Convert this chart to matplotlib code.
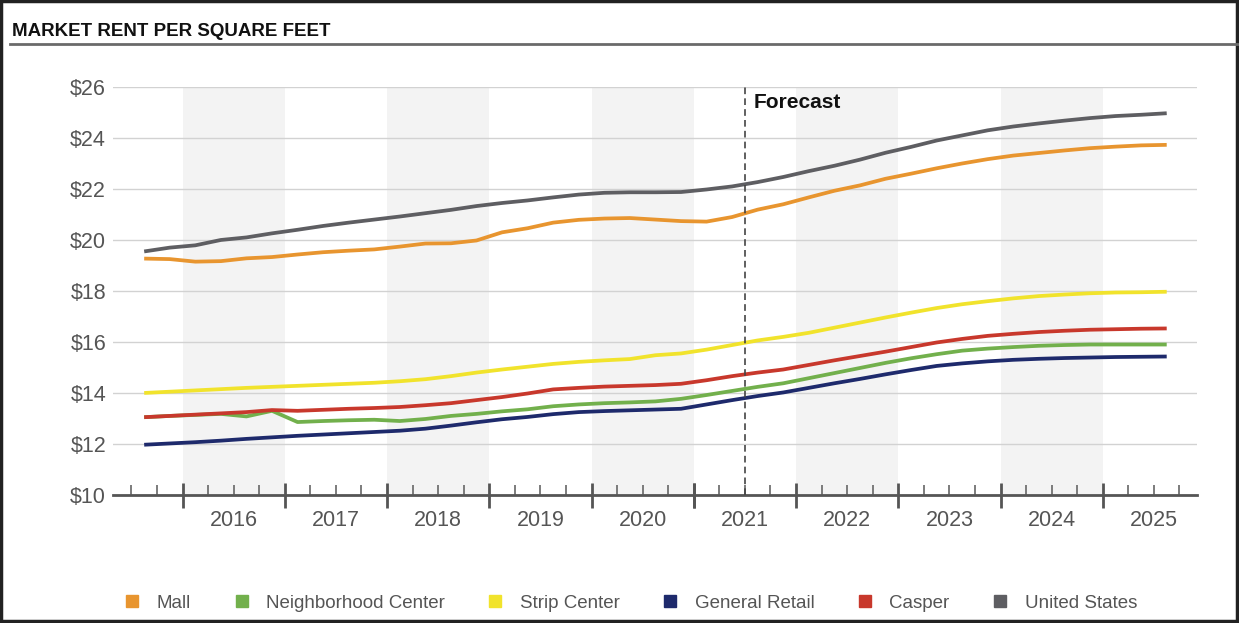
import numpy as np
import matplotlib
matplotlib.use("Agg")
import matplotlib.pyplot as plt
from matplotlib.lines import Line2D
from matplotlib.patches import Rectangle

plt.rcParams["font.family"] = ["Liberation Sans", "DejaVu Sans"]

# quarterly series, 2015 Q3 .. 2025 Q3
quarters = [f"{y}Q{q}" for y in range(2015, 2026) for q in range(1, 5)][2:43]

mall = [19.27, 19.25, 19.15, 19.17, 19.28, 19.33, 19.43, 19.52, 19.58, 19.63,
        19.74, 19.86, 19.87, 19.98, 20.30, 20.46, 20.68, 20.79, 20.84, 20.86,
        20.80, 20.74, 20.72, 20.90, 21.19, 21.40, 21.67, 21.93, 22.14, 22.40,
        22.60, 22.81, 23.00, 23.17, 23.31, 23.41, 23.51, 23.60, 23.66, 23.71,
        23.73]
neighborhood = [13.05, 13.10, 13.14, 13.18, 13.08, 13.30, 12.86, 12.90, 12.93, 12.95,
                12.90, 12.98, 13.10, 13.18, 13.28, 13.36, 13.48, 13.55, 13.60, 13.63,
                13.67, 13.77, 13.92, 14.08, 14.24, 14.38, 14.58, 14.78, 14.98, 15.18,
                15.36, 15.52, 15.66, 15.74, 15.80, 15.85, 15.88, 15.90, 15.90, 15.90,
                15.90]
strip = [14.00, 14.05, 14.10, 14.15, 14.20, 14.24, 14.28, 14.32, 14.36, 14.40,
         14.46, 14.54, 14.66, 14.80, 14.92, 15.03, 15.14, 15.22, 15.28, 15.33,
         15.48, 15.55, 15.70, 15.88, 16.06, 16.20, 16.36, 16.56, 16.76, 16.96,
         17.15, 17.33, 17.48, 17.60, 17.71, 17.80, 17.86, 17.91, 17.94, 17.95,
         17.97]
general = [11.97, 12.02, 12.07, 12.13, 12.20, 12.26, 12.32, 12.37, 12.42, 12.47,
           12.52, 12.60, 12.72, 12.85, 12.97, 13.06, 13.17, 13.25, 13.29, 13.32,
           13.35, 13.38, 13.55, 13.72, 13.88, 14.02, 14.20, 14.38, 14.55, 14.73,
           14.90, 15.06, 15.16, 15.24, 15.30, 15.34, 15.37, 15.39, 15.41, 15.42,
           15.43]
casper = [13.05, 13.10, 13.15, 13.20, 13.25, 13.33, 13.30, 13.34, 13.38, 13.41,
          13.45, 13.52, 13.60, 13.72, 13.84, 13.98, 14.14, 14.20, 14.25, 14.28,
          14.31, 14.36, 14.50, 14.66, 14.80, 14.92, 15.10, 15.28, 15.45, 15.62,
          15.80, 15.98, 16.12, 16.24, 16.32, 16.39, 16.44, 16.48, 16.50, 16.52,
          16.53]
united_states = [19.55, 19.70, 19.79, 20.00, 20.10, 20.26, 20.40, 20.55, 20.68, 20.80,
                 20.92, 21.05, 21.18, 21.33, 21.45, 21.55, 21.67, 21.78, 21.85, 21.87,
                 21.87, 21.88, 21.98, 22.10, 22.27, 22.47, 22.70, 22.91, 23.15, 23.42,
                 23.65, 23.90, 24.10, 24.30, 24.45, 24.57, 24.68, 24.78, 24.86, 24.91,
                 24.97]

series_names = ["Mall", "Neighborhood Center", "Strip Center",
                "General Retail", "Casper", "United States"]
series_values = [mall, neighborhood, strip, general, casper, united_states]
series_colors = ["#e8952f", "#72b04c", "#f1e32c", "#1e2a6c", "#c8382c", "#5e5e62"]

years = list(range(2016, 2026))
shaded_years = [2016, 2018, 2020, 2022, 2024]
forecast_start = "2021Q3"


def quarter_pos(label):
    # centre of the quarter, in decimal years
    y, q = int(label[:4]), int(label[-1])
    return y + (q - 0.5) / 4.0


x = np.array([quarter_pos(q) for q in quarters])
x_forecast = quarter_pos(forecast_start) - 0.125

fig = plt.figure(figsize=(12.39, 6.23), dpi=100)
ax = fig.add_axes([0.0912, 0.2055, 0.8748, 0.6549])

for yr in shaded_years:
    ax.axvspan(yr, yr + 1, color="#f3f3f3", lw=0, zorder=0)

for name, vals, col in zip(series_names, series_values, series_colors):
    ax.plot(x, vals, color=col, lw=2.7, solid_capstyle="butt", zorder=3)

ax.set_xlim(2015.32, 2025.92)
ax.set_ylim(10, 26)

ax.set_yticks(np.arange(10, 27, 2))
ax.set_yticklabels([f"${v}" for v in range(10, 27, 2)])
ax.yaxis.grid(True, color="#d2d2d2", lw=1.0)
ax.set_axisbelow(True)
ax.tick_params(axis="y", length=0, pad=5, labelsize=15.5, labelcolor="#555555")

ax.set_xticks(years + [2021])
ax.set_xticks(np.arange(2015.5, 2026, 0.25), minor=True)
ax.tick_params(axis="x", which="major", direction="inout", length=18, width=2,
               color="#555555", labelbottom=False)
ax.tick_params(axis="x", which="minor", direction="in", length=7, width=1.2,
               color="#666666")
for yr in years:
    ax.text(yr + 0.5, -0.063, str(yr), transform=ax.get_xaxis_transform(),
            ha="center", va="center", fontsize=15.5, color="#555555")

for side in ("left", "right", "top"):
    ax.spines[side].set_visible(False)
ax.spines["bottom"].set_color("#555555")
ax.spines["bottom"].set_linewidth(2)

ax.axvline(x_forecast, color="#444444", lw=1.2, ls=(0, (4, 2.5)), zorder=4)
ax.text(x_forecast + 0.09, 25.78, "Forecast", ha="left", va="top",
        fontsize=15, fontweight="bold", color="#111111")

# header
fig.text(0.0097, 0.950, "MARKET RENT PER SQUARE FEET", ha="left", va="center",
         fontsize=13.5, fontweight="bold", color="#111111")
fig.add_artist(Line2D([0.008, 1.0], [0.930, 0.930], transform=fig.transFigure,
                      color="#6a6a6a", lw=2))
fig.add_artist(Rectangle((0.001, 0.003), 0.997, 0.995, transform=fig.transFigure,
                         fill=False, edgecolor="#222222", lw=2.5))

handles = [Line2D([], [], ls="none", marker="s", markersize=8,
                  markerfacecolor=c, markeredgecolor=c) for c in series_colors]
fig.legend(handles, series_names, loc="center", bbox_to_anchor=(0.5085, 0.032),
           ncol=6, frameon=False, fontsize=13.5, labelcolor="#555555",
           handletextpad=0.8, columnspacing=2.2, handlelength=1.0)

fig.savefig("out.png", dpi=100)
